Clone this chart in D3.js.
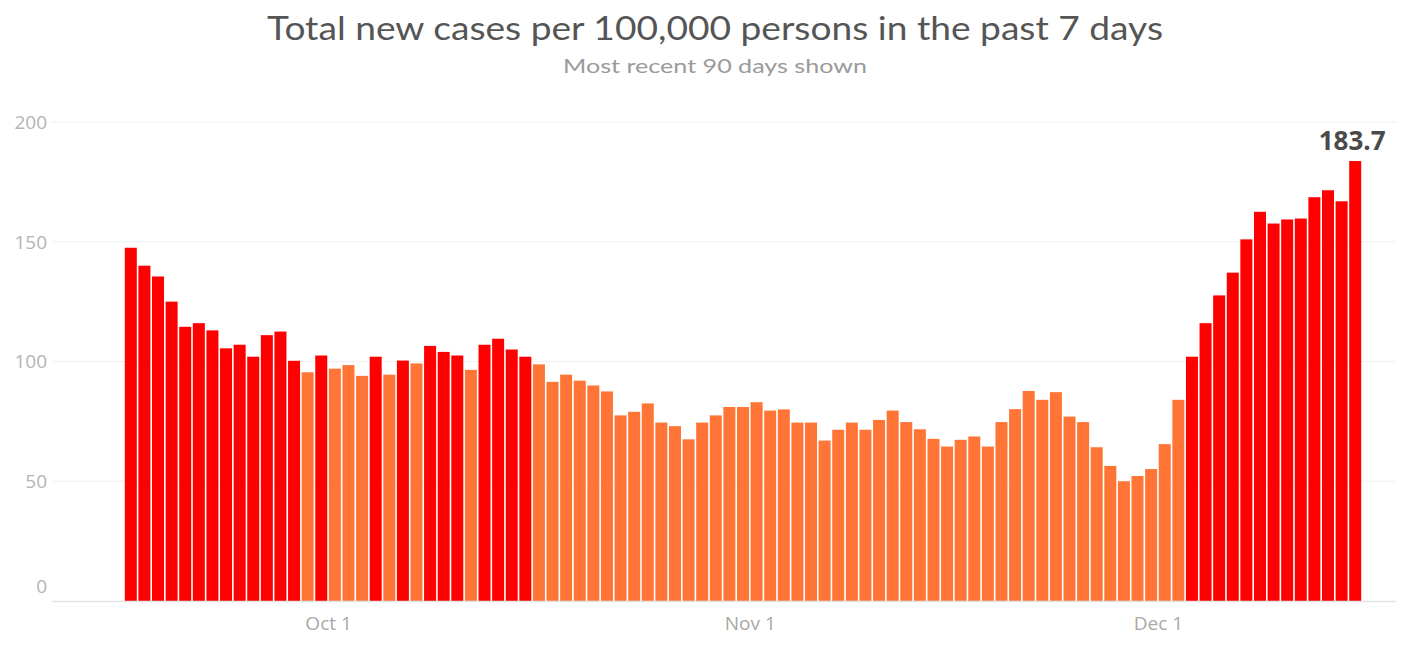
<!DOCTYPE html>
<html><head><meta charset="utf-8">
<script src="https://cdn.jsdelivr.net/npm/d3@7"></script>
<style>html,body{margin:0;padding:0;background:#fff;} svg{display:block;}</style>
</head><body>
<svg id="chart" width="1404" height="645"></svg>
<script>
// ---- data ----
const firstDay = "2020-09-16";
const values = [
  147.5, 140, 135.5, 125, 114.5, 116, 113, 105.5, 107, 102,
  111, 112.5, 100.3, 95.5, 102.5, 97, 98.5, 94, 102, 94.5,
  100.4, 99.2, 106.5, 104, 102.5, 96.5, 107, 109.5, 105, 102,
  98.8, 91.5, 94.5, 92, 90, 87.5, 77.5, 79, 82.5, 74.5,
  73, 67.5, 74.5, 77.5, 81, 81, 83, 79.5, 80, 74.5,
  74.5, 67, 71.5, 74.5, 71.5, 75.6, 79.5, 74.7, 71.7, 67.7,
  64.5, 67.3, 68.7, 64.5, 74.7, 80.1, 87.7, 84, 87.2, 77,
  74.7, 64.2, 56.4, 50, 52.2, 55.1, 65.5, 84, 102, 116,
  127.6, 137.1, 151, 162.5, 157.6, 159.3, 159.7, 168.6, 171.5, 166.9,
  183.7
];
const yTickValues = [0, 50, 100, 150, 200];
const xTickDates = ["2020-10-01", "2020-11-01", "2020-12-01"];
const highThreshold = 100;
const titleText = "Total new cases per 100,000 persons in the past 7 days";
const subtitleText = "Most recent 90 days shown";
const lastLabel = "183.7";

// ---- build ----
const parse = d3.timeParse("%Y-%m-%d");
const start = parse(firstDay);
const data = values.map((v, i) => ({ date: d3.timeDay.offset(start, i), value: v }));

const svg = d3.select("#chart");
const font = "'Open Sans', 'Noto Sans', sans-serif";
const titleFont = "Lato, 'Open Sans', sans-serif";

const x = d3.scaleTime()
  .domain([start, d3.timeDay.offset(start, values.length)])
  .range([124, 1362]);
const y = d3.scaleLinear().domain([0, 200]).range([601, 122]);

const gridLeft = 52, gridRight = 1396;

// gridlines
svg.append("g").selectAll("line")
  .data(yTickValues.filter(d => d > 0))
  .join("line")
  .attr("x1", gridLeft).attr("x2", gridRight)
  .attr("y1", d => y(d)).attr("y2", d => y(d))
  .attr("stroke", "#f0f0f0").attr("stroke-width", 1.2);

// y axis labels
const yAxis = d3.axisLeft(y).tickValues(yTickValues).tickSize(0).tickPadding(0);
const gy = svg.append("g").attr("transform", "translate(47,0)").call(yAxis);
gy.select(".domain").remove();
gy.selectAll("text")
  .attr("font-family", font).attr("font-size", 19).attr("fill", "#b4b4b4")
  .attr("dy", d => d === 0 ? "-0.45em" : "0.34em");

// bars
const gap = 1.6;
svg.append("g").selectAll("rect")
  .data(data)
  .join("rect")
  .attr("x", d => x(d.date) + gap / 2)
  .attr("width", d => x(d3.timeDay.offset(d.date, 1)) - x(d.date) - gap)
  .attr("y", d => y(d.value))
  .attr("height", d => y(0) - y(d.value))
  .attr("fill", d => d.value >= highThreshold ? "#ff0000" : "#ff7535");

// baseline
svg.append("line")
  .attr("x1", gridLeft).attr("x2", gridRight)
  .attr("y1", y(0) + 0.5).attr("y2", y(0) + 0.5)
  .attr("stroke", "#e4e4e4").attr("stroke-width", 1.5);

// x axis labels
const xAxis = d3.axisBottom(x)
  .tickValues(xTickDates.map(parse))
  .tickFormat(d3.timeFormat("%b %-d"))
  .tickSize(0).tickPadding(0);
const gx = svg.append("g").attr("transform", `translate(0,${y(0)})`).call(xAxis);
gx.select(".domain").remove();
gx.selectAll("text")
  .attr("font-family", font).attr("font-size", 19).attr("fill", "#a8a8a8")
  .attr("dy", "1.55em");

// last value label
const last = data[data.length - 1];
svg.append("text")
  .attr("x", x(last.date) + (x(d3.timeDay.offset(last.date, 1)) - x(last.date)) / 2 - 3)
  .attr("y", y(last.value) - 11)
  .attr("text-anchor", "middle")
  .attr("font-family", font).attr("font-weight", "bold")
  .attr("font-size", 26).attr("fill", "#4a4a4a")
  .text(lastLabel);

// title & subtitle
svg.append("text")
  .attr("x", 715).attr("y", 40)
  .attr("text-anchor", "middle")
  .attr("font-family", titleFont).attr("font-size", 33).attr("fill", "#555555")
  .attr("textLength", 896).attr("lengthAdjust", "spacingAndGlyphs")
  .text(titleText);
svg.append("text")
  .attr("x", 715).attr("y", 73)
  .attr("text-anchor", "middle")
  .attr("font-family", titleFont).attr("font-size", 20).attr("fill", "#9a9a9a")
  .attr("textLength", 304).attr("lengthAdjust", "spacingAndGlyphs")
  .text(subtitleText);
</script>
</body></html>
